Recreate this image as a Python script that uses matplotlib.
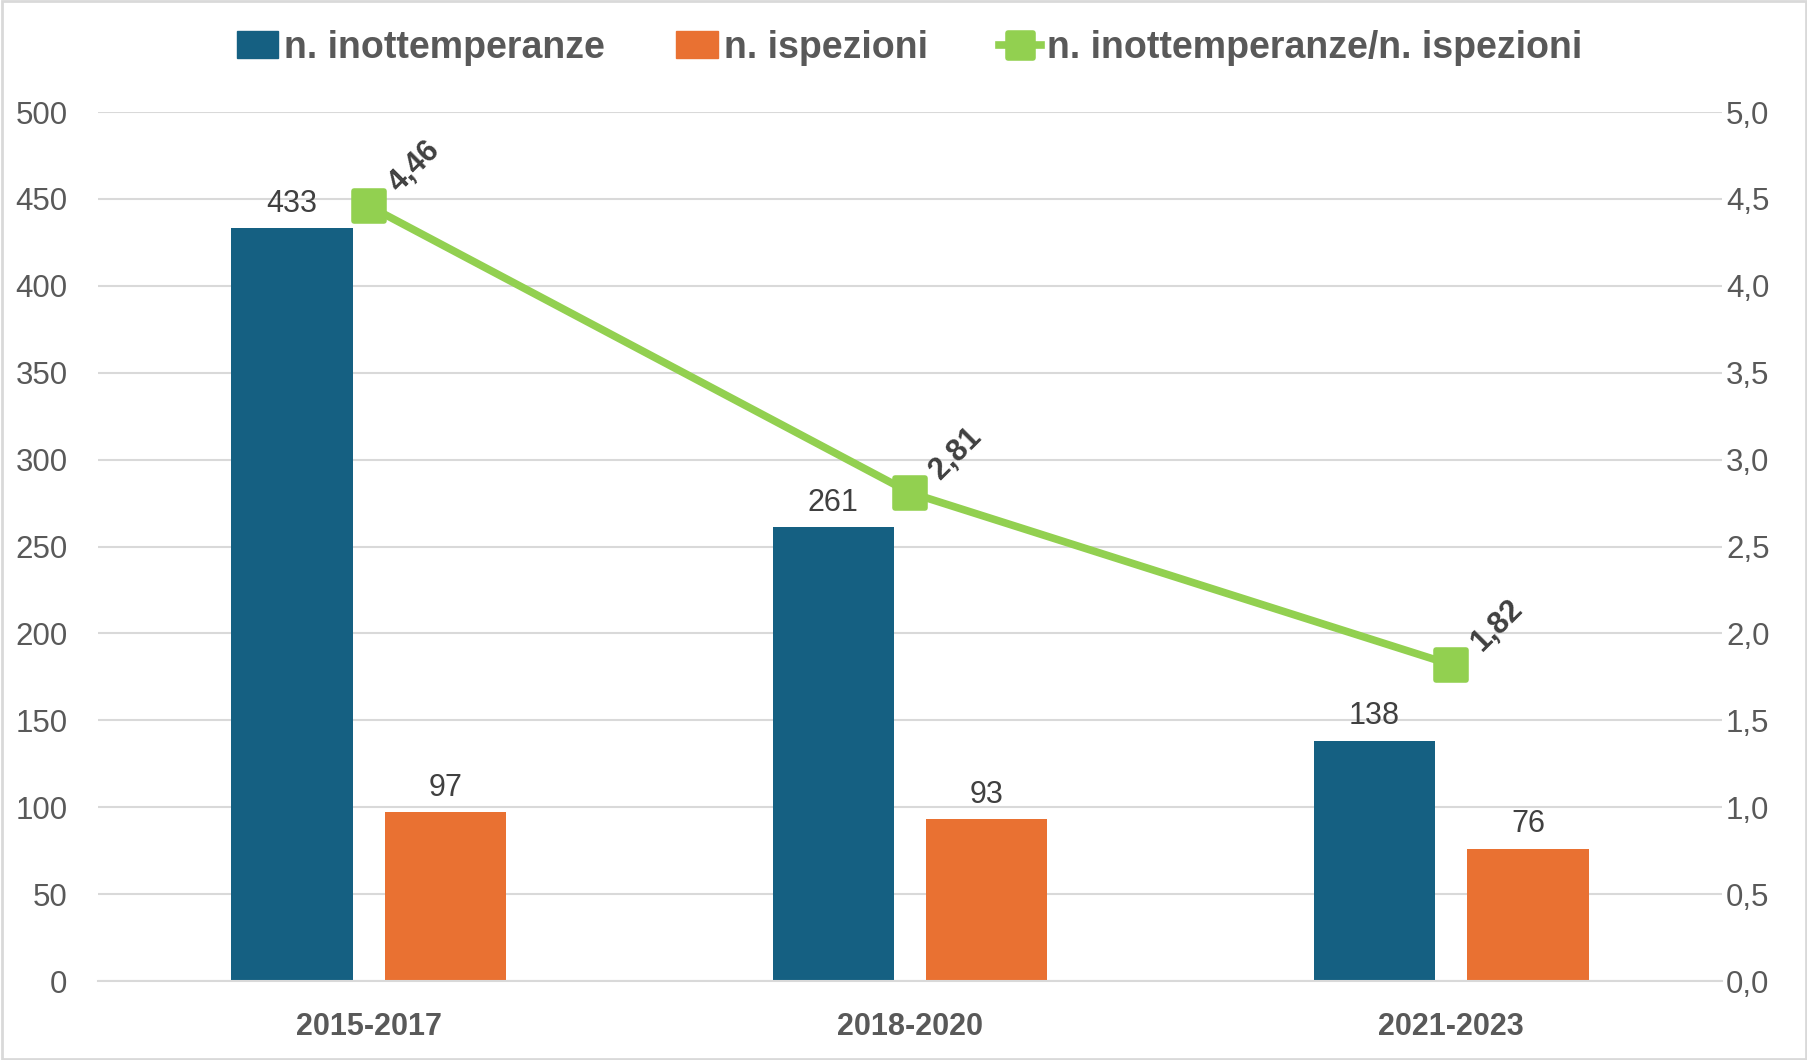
import matplotlib
matplotlib.use("Agg")
import matplotlib.pyplot as plt
from matplotlib.markers import MarkerStyle
from matplotlib.lines import Line2D
from matplotlib.patches import Patch, Rectangle
import numpy as np

categories = ["2015-2017", "2018-2020", "2021-2023"]
inottemperanze = [433, 261, 138]
ispezioni = [97, 93, 76]
rapporto = [4.46, 2.81, 1.82]
left_ticks = [0, 50, 100, 150, 200, 250, 300, 350, 400, 450, 500]
right_ticks = [0.0, 0.5, 1.0, 1.5, 2.0, 2.5, 3.0, 3.5, 4.0, 4.5, 5.0]

BLUE = "#156082"
ORANGE = "#E97132"
GREEN = "#92D050"
TICK = "#595959"
LABEL = "#404040"
GRID = "#D9D9D9"
REG = ["Liberation Sans", "DejaVu Sans"]

fig = plt.figure(figsize=(18.08, 10.60), dpi=100)
ax = fig.add_axes([0.0542, 0.0745, 0.8982, 0.8198])
ax2 = ax.twinx()

x = np.arange(len(categories))
w = 0.224
off = 0.1418
ax.bar(x - off, inottemperanze, w, color=BLUE, zorder=2)
ax.bar(x + off, ispezioni, w, color=ORANGE, zorder=2)

ax.set_xlim(-0.5, 2.5)
ax.set_ylim(0, 500)
ax2.set_ylim(0, 5)
ax.set_yticks(left_ticks)
ax.set_yticklabels([str(t) for t in left_ticks], family=REG, fontsize=22.5, color=TICK)
ax2.set_yticks(right_ticks)
ax2.set_yticklabels([f"{t:.1f}".replace(".", ",") for t in right_ticks], family=REG, fontsize=22.5, color=TICK)
ax.set_xticks(x)
ax.set_xticklabels(categories, family=REG, fontsize=22, fontweight="bold", color=TICK)
ax.tick_params(axis="x", length=0, pad=22)
ax.tick_params(axis="y", length=0, pad=22)
ax2.tick_params(axis="y", length=0, pad=3)

ax.grid(axis="y", color=GRID, linewidth=1.5, zorder=0)
ax.set_axisbelow(True)
for a in (ax, ax2):
    for s in a.spines.values():
        s.set_visible(False)
ax.spines["bottom"].set_visible(True)
ax.spines["bottom"].set_color(GRID)
ax.spines["bottom"].set_linewidth(1.5)

for xi, v in zip(x - off, inottemperanze):
    ax.annotate(str(v), (xi, v), xytext=(0, 7), textcoords="offset points",
                ha="center", va="bottom", family=REG, fontsize=22, color=LABEL)
for xi, v in zip(x + off, ispezioni):
    ax.annotate(str(v), (xi, v), xytext=(0, 7), textcoords="offset points",
                ha="center", va="bottom", family=REG, fontsize=22, color=LABEL)

mk = MarkerStyle("s", joinstyle="round")
ax2.plot(x, rapporto, color=GREEN, linewidth=5.5, marker=mk, markersize=22,
         markeredgewidth=4, markeredgecolor=GREEN, markerfacecolor=GREEN, zorder=3)
for xi, v in zip(x, rapporto):
    ax2.annotate(f"{v:.2f}".replace(".", ","), (xi, v), xytext=(33, 28), textcoords="offset points",
                 ha="center", va="center", rotation=45, family=REG, fontsize=22,
                 fontweight="bold", color=LABEL)

handles = [Patch(color=BLUE), Patch(color=ORANGE),
           Line2D([0], [0], color=GREEN, linewidth=5.5, marker=mk, markersize=18,
                  markeredgewidth=4, markeredgecolor=GREEN, markerfacecolor=GREEN)]
labels = ["n. inottemperanze", "n. ispezioni", "n. inottemperanze/n. ispezioni"]
leg = fig.legend(handles, labels, loc="center", bbox_to_anchor=(0.503, 0.955), ncol=3,
                 frameon=False, handlelength=1.1, handleheight=0.7, handletextpad=0.17,
                 columnspacing=1.9, prop={"family": REG, "size": 27, "weight": "bold"})
for t in leg.get_texts():
    t.set_color(TICK)

fig.patches.append(Rectangle((0.001, 0.001), 0.998, 0.998, transform=fig.transFigure,
                             fill=False, edgecolor=GRID, linewidth=2))

fig.savefig("out.png", dpi=100)
